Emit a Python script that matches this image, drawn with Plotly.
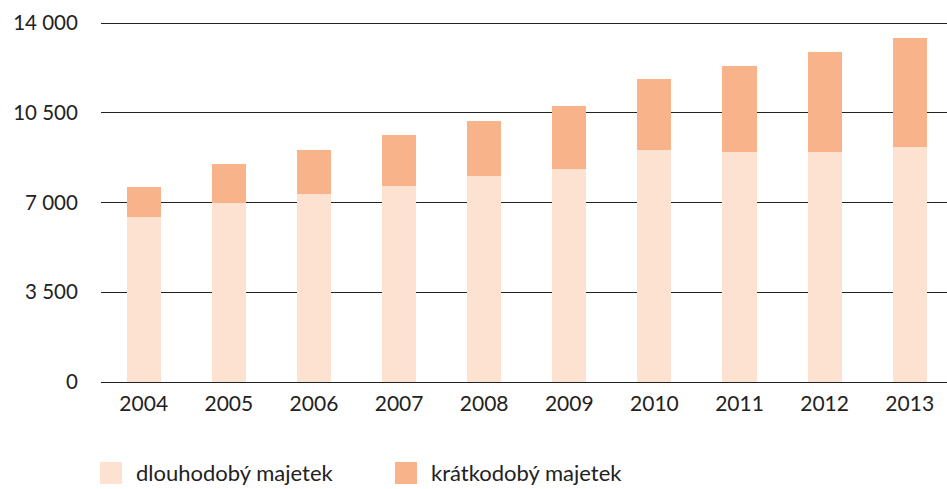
import plotly.graph_objects as go

years = ["2004", "2005", "2006", "2007", "2008", "2009", "2010", "2011", "2012", "2013"]
dlouhodoby = [6430, 6975, 7325, 7650, 8050, 8315, 9040, 8990, 8990, 9185]
kratkodoby = [1180, 1535, 1730, 1990, 2135, 2460, 2800, 3345, 3890, 4240]
y_ticks = [0, 3500, 7000, 10500, 14000]
series_names = ["dlouhodobý majetek", "krátkodobý majetek"]
colors = ["#FDE2D1", "#F8B38B"]

W, H = 947, 489
ML, MR, MT, MB = 101, 0, 18, 107
FONT = "Lato"
TXT = "#222222"

fig = go.Figure()
fig.add_trace(go.Bar(x=years, y=dlouhodoby, name=series_names[0],
                     marker=dict(color=colors[0], line=dict(width=0))))
fig.add_trace(go.Bar(x=years, y=kratkodoby, name=series_names[1],
                     marker=dict(color=colors[1], line=dict(width=0))))

pw = W - ML - MR
ph = H - MT - MB


def px_x(px):
    return (px - ML) / pw


def px_y(py):
    return (H - MB - py) / ph


# manual legend (square swatches + labels)
legend_items = [(100, series_names[0], colors[0]), (395, series_names[1], colors[1])]
shapes = []
annotations = []
for x0, name, col in legend_items:
    shapes.append(dict(type="rect", xref="paper", yref="paper",
                       x0=px_x(x0), x1=px_x(x0 + 22), y0=px_y(484), y1=px_y(462),
                       fillcolor=col, line=dict(width=0), layer="above"))
    annotations.append(dict(xref="paper", yref="paper", x=px_x(x0 + 34), y=px_y(472),
                            xanchor="left", yanchor="middle", text=name, showarrow=False,
                            font=dict(family=FONT, size=22, color=TXT)))

fig.update_layout(
    width=W, height=H,
    margin=dict(l=ML, r=MR, t=MT, b=MB, pad=0),
    barmode="stack",
    bargap=0.6,
    plot_bgcolor="white",
    paper_bgcolor="white",
    separators=", ",
    showlegend=False,
    font=dict(family=FONT, size=21, color=TXT),
    shapes=shapes,
    annotations=annotations,
    xaxis=dict(range=[-0.502, 9.438], showgrid=False, showline=True, linecolor="#222222",
               linewidth=1.3, ticks="outside", ticklen=3, tickcolor="rgba(0,0,0,0)",
               tickfont=dict(family=FONT, size=21, color=TXT), fixedrange=True),
    yaxis=dict(range=[0, 14200], tickvals=y_ticks, tickformat=",d",
               showgrid=True, gridcolor="#222222", gridwidth=1, zeroline=False,
               showline=False, ticks="outside", ticklen=18, tickcolor="rgba(0,0,0,0)",
               tickfont=dict(family=FONT, size=20.5, color=TXT), fixedrange=True),
)

fig.write_html("out.html", config={"displayModeBar": False},
               post_script="document.body.style.margin='0';document.body.style.padding='0';")
